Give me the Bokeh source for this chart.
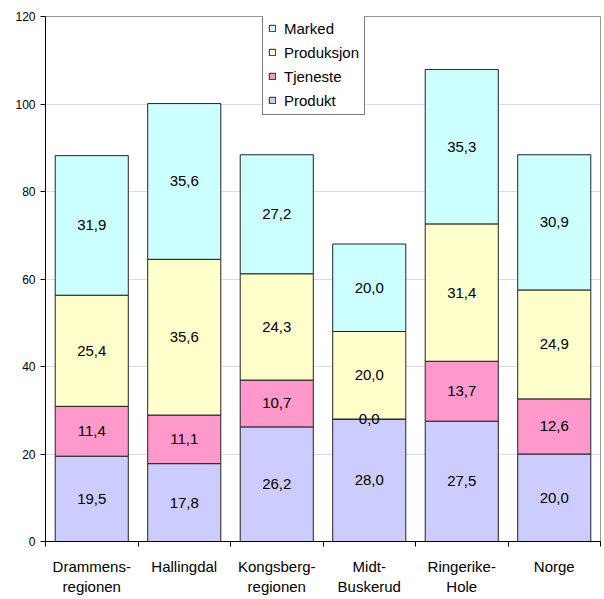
from bokeh.plotting import figure
from bokeh.models import ColumnDataSource, FixedTicker, Range1d, Legend, LegendItem, LabelSet
from bokeh.core.properties import value
from bokeh.embed import file_html
from bokeh.resources import INLINE

categories = ["Drammens-\nregionen", "Hallingdal", "Kongsberg-\nregionen", "Midt-\nBuskerud", "Ringerike-\nHole", "Norge"]
series_names = ["Produkt", "Tjeneste", "Produksjon", "Marked"]
produkt = [19.5, 17.8, 26.2, 28.0, 27.5, 20.0]
tjeneste = [11.4, 11.1, 10.7, 0.0, 13.7, 12.6]
produksjon = [25.4, 35.6, 24.3, 20.0, 31.4, 24.9]
marked = [31.9, 35.6, 27.2, 20.0, 35.3, 30.9]
colors = ["#CCCCFF", "#FF99CC", "#FFFFCC", "#CCFFFF"]
y_ticks = [0, 20, 40, 60, 80, 100, 120]

series = [produkt, tjeneste, produksjon, marked]
xs = [i + 0.5 for i in range(len(categories))]
FONT = "Liberation Sans"

p = figure(width=602, height=597, output_backend="svg", toolbar_location=None,
           x_range=Range1d(0, len(categories)), y_range=Range1d(0, 120),
           min_border_left=45, min_border_right=2, min_border_top=16, min_border_bottom=51)

p.outline_line_color = "#999999"
p.background_fill_color = "white"
p.border_fill_color = "white"

bottoms = [0.0] * len(categories)
renderers = []
for name, vals, col in zip(series_names, series, colors):
    tops = [b + v for b, v in zip(bottoms, vals)]
    mids = [(b + t) / 2 for b, t in zip(bottoms, tops)]
    src = ColumnDataSource(dict(x=xs, bottom=bottoms, top=tops, mid=mids,
                                lab=[f"{v:.1f}".replace(".", ",") for v in vals]))
    r = p.vbar(x="x", bottom="bottom", top="top", width=0.79, source=src,
               fill_color=col, line_color="#222222", line_width=1)
    renderers.append((name, r))
    p.add_layout(LabelSet(x="x", y="mid", text="lab", source=src,
                          text_align="center", text_baseline="middle",
                          text_font=value(FONT), text_font_size=value("15px"),
                          text_color="black"))
    bottoms = tops

legend = Legend(items=[LegendItem(label=n, renderers=[r]) for n, r in reversed(renderers)],
                location=(217, 426), glyph_width=8, glyph_height=8, label_height=18,
                spacing=6, padding=5, margin=0, label_standoff=8,
                label_text_font=FONT, label_text_font_size="15px", label_text_color="black",
                border_line_color="black", border_line_width=1,
                background_fill_color="white", background_fill_alpha=1.0)
p.add_layout(legend)

p.xaxis.ticker = FixedTicker(ticks=xs, minor_ticks=list(range(len(categories) + 1)))
p.xaxis.major_label_overrides = {x: c for x, c in zip(xs, categories)}
p.xaxis.major_tick_line_color = None
p.xaxis.major_tick_in = 0
p.xaxis.major_tick_out = 0
p.xaxis.minor_tick_in = 0
p.xaxis.minor_tick_out = 5
p.xaxis.minor_tick_line_color = "black"
p.xaxis.axis_line_color = "black"
p.xaxis.major_label_text_font = FONT
p.xaxis.major_label_text_font_size = "15px"
p.xaxis.major_label_text_font_style = "normal"
p.xaxis.major_label_text_color = "black"
p.xaxis.major_label_standoff = 11

p.yaxis.ticker = FixedTicker(ticks=y_ticks, minor_ticks=[])
p.yaxis.major_tick_in = 0
p.yaxis.major_tick_out = 5
p.yaxis.major_tick_line_color = "black"
p.yaxis.axis_line_color = "black"
p.yaxis.major_label_text_font = FONT
p.yaxis.major_label_text_font_size = "12px"
p.yaxis.major_label_text_color = "black"
p.yaxis.major_label_standoff = 5

p.xgrid.grid_line_color = None
p.ygrid.ticker = FixedTicker(ticks=y_ticks)
p.ygrid.grid_line_color = "#D8D8F8"
p.ygrid.grid_line_width = 1

open("out.html", "w").write(file_html(p, INLINE))
